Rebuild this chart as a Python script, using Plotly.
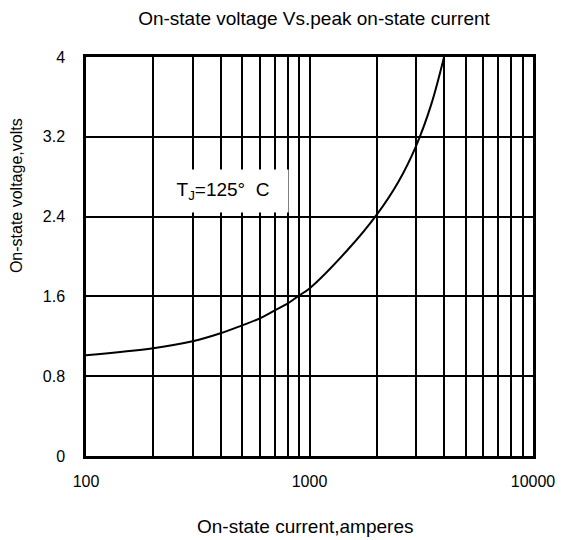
import plotly.graph_objects as go

current = [100, 200, 300, 400, 500, 600, 700, 800, 900, 1000, 1500, 2000, 2500, 3000, 3500, 4000]
voltage = [1.01, 1.08, 1.15, 1.23, 1.31, 1.38, 1.46, 1.53, 1.61, 1.68, 2.08, 2.42, 2.75, 3.11, 3.52, 4.0]

x_ticks = [100, 1000, 10000]
x_tick_labels = ["100", "1000", "10000"]
y_ticks = [0, 0.8, 1.6, 2.4, 3.2, 4]
y_tick_labels = ["0", "0.8", "1.6", "2.4", "3.2", "4"]

FONT = "Liberation Sans, Arial, sans-serif"

fig = go.Figure()
fig.add_trace(go.Scatter(
    x=current, y=voltage, mode="lines",
    line=dict(color="black", width=2, shape="spline", smoothing=1.0),
    showlegend=False, hoverinfo="skip"))

fig.update_layout(
    width=567, height=540,
    margin=dict(l=86, r=27, t=57, b=84),
    paper_bgcolor="white", plot_bgcolor="white",
    font=dict(family=FONT, size=16, color="black"),
    title=dict(text="On-state voltage Vs.peak on-state current",
               x=314 / 567, xanchor="center", y=1 - 18 / 540, yanchor="middle",
               font=dict(size=19, family=FONT, color="black")),
    showlegend=False,
)

fig.update_xaxes(
    type="log", range=[2, 4],
    tickvals=x_ticks, ticktext=x_tick_labels,
    showgrid=True, gridcolor="black", gridwidth=1.5,
    minor=dict(dtick="D1", showgrid=True, gridcolor="black", gridwidth=1.5, ticks=""),
    showline=True, linecolor="black", linewidth=2.5, mirror=True,
    ticks="", ticklabelstandoff=9, zeroline=False,
    tickfont=dict(size=16, family=FONT),
)
fig.update_yaxes(
    range=[0, 4],
    tickvals=y_ticks, ticktext=y_tick_labels,
    showgrid=True, gridcolor="black", gridwidth=1.5,
    showline=True, linecolor="black", linewidth=2.5, mirror=True,
    ticks="", ticklabelstandoff=15, zeroline=False,
    tickfont=dict(size=16, family=FONT),
)

fig.add_annotation(
    text="On-state current,amperes", xref="paper", yref="paper",
    x=(308 - 86) / 454, y=-(526 - 456) / 399, xanchor="center", yanchor="middle",
    showarrow=False, font=dict(size=19, family=FONT))
fig.add_annotation(
    text="On-state voltage,volts", xref="paper", yref="paper",
    x=-(86 - 15) / 454, y=(456 - 196) / 399, xanchor="center", yanchor="middle",
    textangle=-90, showarrow=False, font=dict(size=16, family=FONT))
fig.add_annotation(
    text="T<sub>J</sub>=125°  C", xref="paper", yref="paper",
    x=(225 - 86) / 454, y=(456 - 191) / 399, xanchor="center", yanchor="middle",
    showarrow=False, bgcolor="white", borderpad=0, width=130, height=42,
    font=dict(size=19, family=FONT))

fig.write_html("out.html", config={"displayModeBar": False},
               post_script="document.body.style.margin='0';")
